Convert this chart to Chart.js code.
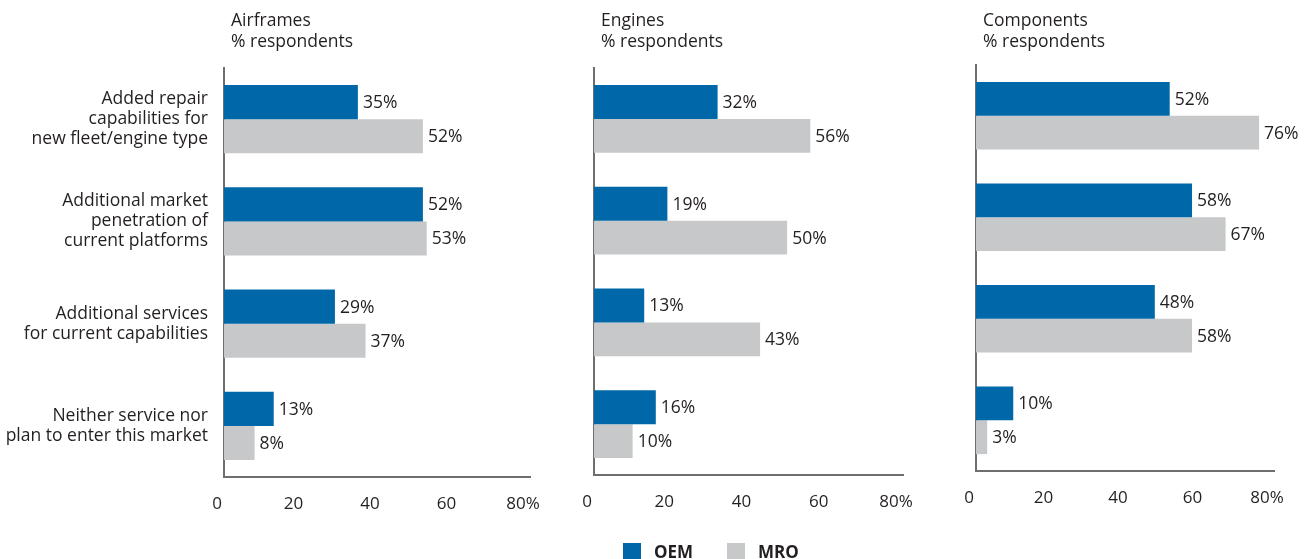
<!DOCTYPE html>
<html lang="en">
<head>
<meta charset="utf-8"/>
<title>Service expansion plans</title>
<script src="https://cdn.jsdelivr.net/npm/chart.js"></script>
<style>
  body { margin: 0; background: #fff; }
  #wrap { position: relative; width: 1305px; height: 559px; overflow: hidden; }
  #wrap canvas { position: absolute; left: 0; top: 0; }
  #legend {
    position: absolute; left: 623px; top: 540px;
    display: flex; align-items: center;
    font: bold 17px "Open Sans", sans-serif; color: #231f20;
  }
  #legend .item { display: flex; align-items: center; margin-right: 34px; }
  #legend .box { width: 18px; height: 17px; margin-right: 13px; }
</style>
</head>
<body>
<div id="wrap">
  <canvas id="c1" width="1305" height="559"></canvas>
  <canvas id="c2" width="1305" height="559"></canvas>
  <canvas id="c3" width="1305" height="559"></canvas>
  <div id="legend"></div>
</div>

<script>
var categories = [
  ['Added repair', 'capabilities for', 'new fleet/engine type'],
  ['Additional market', 'penetration of', 'current platforms'],
  ['Additional services', 'for current capabilities'],
  ['Neither service nor', 'plan to enter this market']
];
var seriesNames = ['OEM', 'MRO'];
var seriesColors = ['#0068a9', '#c7c8ca'];

var airframesOEM = [35, 52, 29, 13];
var airframesMRO = [52, 53, 37, 8];
var enginesOEM = [32, 19, 13, 16];
var enginesMRO = [56, 50, 43, 10];
var componentsOEM = [52, 58, 48, 10];
var componentsMRO = [76, 67, 58, 3];

var panelTitles = ['Airframes', 'Engines', 'Components'];
var subTitle = '% respondents';
var xMax = 80;
var xStep = 20;

var FONT = '"Open Sans", sans-serif';
var FS = 17.5;
var TEXT = '#231f20';
var AXIS = '#6e6e6e';

// bar-end value labels and the two-line heading above each panel
var panelText = {
  id: 'panelText',
  afterDatasetsDraw: function (chart, args, opts) {
    var ctx = chart.ctx;
    ctx.save();
    ctx.fillStyle = TEXT;
    ctx.font = FS + 'px ' + FONT;
    ctx.textBaseline = 'middle';
    ctx.textAlign = 'left';
    chart.data.datasets.forEach(function (ds, i) {
      chart.getDatasetMeta(i).data.forEach(function (bar, j) {
        ctx.fillText(ds.data[j] + '%', bar.x + 5, bar.y + 1);
      });
    });
    ctx.fillText(opts.title, chart.chartArea.left + 7, 21);
    ctx.fillText(subTitle, chart.chartArea.left + 7, 42);
    ctx.restore();
  }
};

function makePanel(id, title, oem, mro, box, showCats) {
  return new Chart(document.getElementById(id), {
    type: 'bar',
    data: {
      labels: categories,
      datasets: [
        { label: seriesNames[0], data: oem, backgroundColor: seriesColors[0] },
        { label: seriesNames[1], data: mro, backgroundColor: seriesColors[1] }
      ]
    },
    options: {
      indexAxis: 'y',
      responsive: false,
      animation: false,
      events: [],
      layout: {
        padding: { left: showCats ? 0 : box.left, right: 1305 - box.right, top: box.top, bottom: 0 }
      },
      datasets: { bar: { categoryPercentage: 0.667, barPercentage: 1 } },
      scales: {
        x: {
          min: 0, max: xMax,
          grid: { display: false, drawTicks: false },
          border: { display: true, color: AXIS, width: 2 },
          ticks: {
            stepSize: xStep,
            padding: 17,
            labelOffset: -7,
            color: TEXT,
            font: { family: FONT, size: 17 },
            callback: function (v) { return v === xMax ? v + '%' : v; }
          },
          afterFit: function (s) {
            s.height = 559 - box.bottom;
            // tick labels may overhang; keep the plot width fixed
            s.paddingLeft = 0;
            s.paddingRight = 0;
          }
        },
        y: {
          grid: { display: false, drawTicks: false },
          border: { display: true, color: AXIS, width: 2 },
          ticks: {
            display: showCats,
            padding: 16,
            color: TEXT,
            font: { family: FONT, size: FS, lineHeight: 20 / FS }
          },
          afterFit: function (s) { s.width = showCats ? box.left : 0; }
        }
      },
      plugins: {
        legend: { display: false },
        tooltip: { enabled: false },
        panelText: { title: title }
      }
    },
    plugins: [panelText]
  });
}

var c1 = makePanel('c1', panelTitles[0], airframesOEM, airframesMRO,
  { left: 224, right: 530, top: 68, bottom: 477 }, true);
makePanel('c2', panelTitles[1], enginesOEM, enginesMRO,
  { left: 594, right: 903, top: 68, bottom: 475 }, false);
makePanel('c3', panelTitles[2], componentsOEM, componentsMRO,
  { left: 976, right: 1274, top: 65, bottom: 471 }, false);

// shared legend built from the first panel's datasets
var legend = document.getElementById('legend');
c1.data.datasets.forEach(function (ds) {
  var item = document.createElement('div');
  item.className = 'item';
  var sw = document.createElement('span');
  sw.className = 'box';
  sw.style.background = ds.backgroundColor;
  var txt = document.createElement('span');
  txt.textContent = ds.label;
  item.appendChild(sw);
  item.appendChild(txt);
  legend.appendChild(item);
});
</script>
</body>
</html>
